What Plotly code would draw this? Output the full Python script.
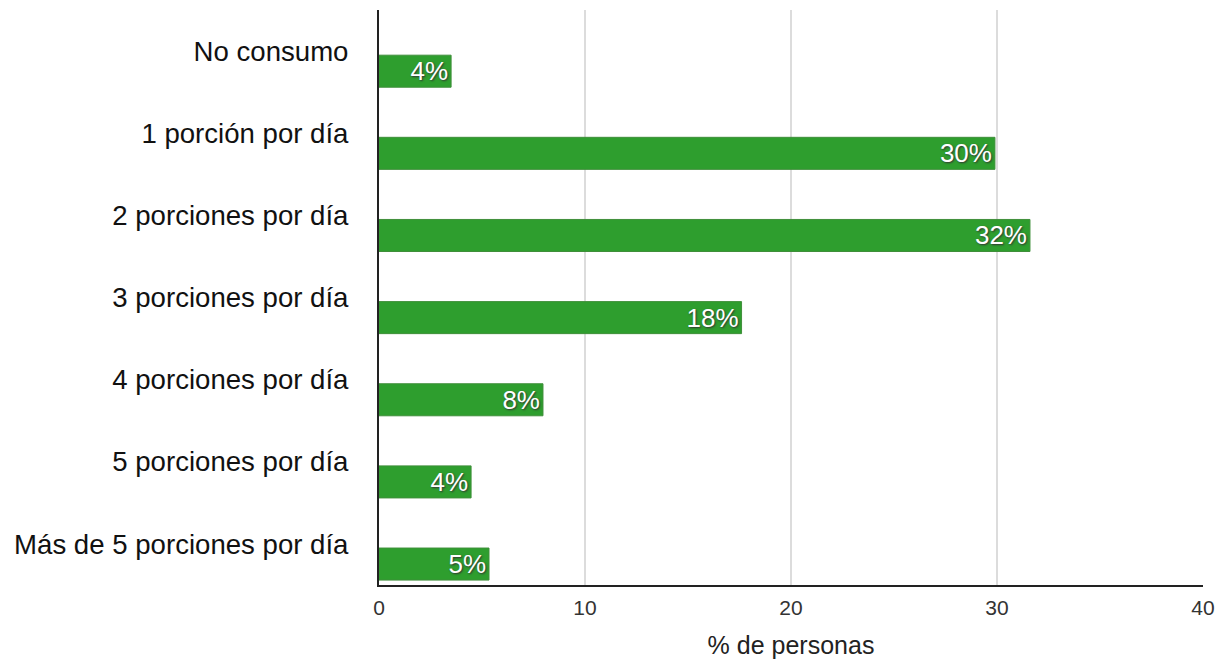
import plotly.graph_objects as go

categories = ["No consumo", "1 porción por día", "2 porciones por día", "3 porciones por día",
              "4 porciones por día", "5 porciones por día", "Más de 5 porciones por día"]
values = [3.5, 29.9, 31.6, 17.6, 7.96, 4.47, 5.34]
labels = [f"{round(v)}%" for v in values]
x_ticks = [0, 10, 20, 30, 40]

fig = go.Figure()
fig.add_trace(go.Bar(
    x=values, y=categories, orientation="h",
    width=0.39, offset=0.05,
    marker=dict(color="#2e9e2e", line=dict(color="#3f8f3a", width=1)),
    text=labels, textposition="inside", insidetextanchor="end",
    constraintext="none",
    textfont=dict(color="white", size=26, family="Liberation Sans, Arial",
                  shadow="1px 1px 2px #333"),
    cliponaxis=False,
))
fig.update_layout(
    width=1222, height=656,
    margin=dict(l=371, r=27, t=2, b=79),
    paper_bgcolor="white", plot_bgcolor="white",
    showlegend=False,
    font=dict(family="Liberation Sans, Arial", color="#222"),
    uniformtext=dict(mode=False),
)
fig.update_xaxes(
    range=[0, 40], tickvals=x_ticks, showgrid=True, gridcolor="#dcdcdc", gridwidth=2,
    showline=True, linecolor="#222", linewidth=2, zeroline=False,
    ticks="", tickfont=dict(size=21, color="#333"), ticklabelstandoff=3,
    title=dict(text="% de personas", font=dict(size=25, color="#222"), standoff=18),
)
fig.update_yaxes(
    categoryorder="array", categoryarray=categories,
    range=[6.5, -0.5], showline=True, linecolor="#222", linewidth=2,
    showgrid=False, ticks="", tickfont=dict(size=27.6, color="#111"),
    ticklabelstandoff=23,
)
fig.write_html("out.html")
